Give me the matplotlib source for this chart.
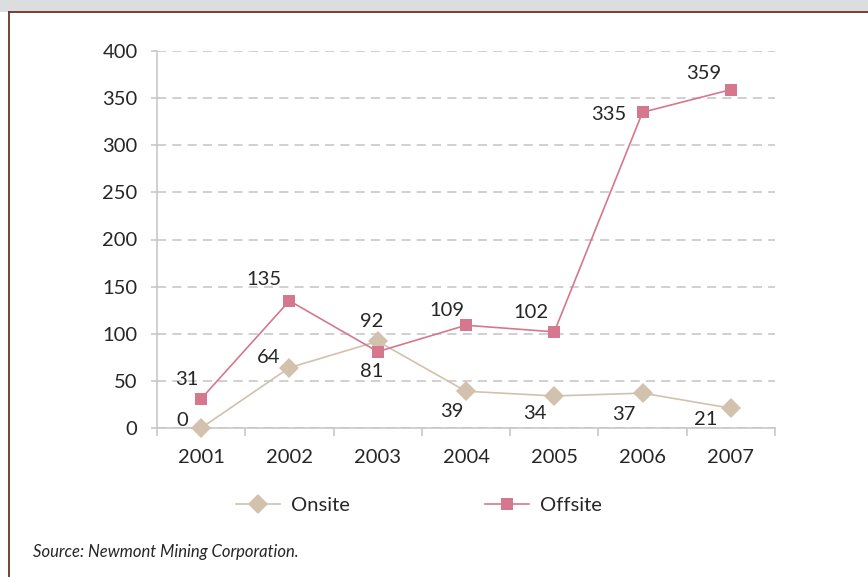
import matplotlib.pyplot as plt
from matplotlib.ticker import FixedLocator
from matplotlib.lines import Line2D
from matplotlib.patches import Rectangle

years = ['2001', '2002', '2003', '2004', '2005', '2006', '2007']
onsite = [0, 64, 92, 39, 34, 37, 21]
offsite = [31, 135, 81, 109, 102, 335, 359]

# label offsets in pixels from each marker
onsite_offsets = [(-19, 7), (-21, 10), (-6, 20), (-14, -20), (-19, -18), (-19, -21), (-25, -11)]
offsite_offsets = [(-14, 19), (-26, 21), (-6, -20), (-19, 15), (-23, 19), (-34, -2), (-27, 16)]

onsite_color = '#d2c1ad'
offsite_color = '#d5788e'
text_color = '#262626'
grid_color = '#c4c4c4'
fsize = 14.5

plt.rcParams['font.family'] = ['Lato', 'DejaVu Sans']

fig = plt.figure(figsize=(8.68, 5.77), dpi=100)

# grey band and brown frame lines
fig.patches.append(Rectangle((0, 1 - 11.5 / 577), 1, 11.5 / 577, transform=fig.transFigure,
                             facecolor='#dcdddf', edgecolor='none', zorder=0))
fig.lines.append(Line2D([9 / 868, 1], [1 - 11.5 / 577] * 2, transform=fig.transFigure,
                        color='#6b3526', lw=1.3))
fig.lines.append(Line2D([9 / 868] * 2, [0, 1 - 11.5 / 577], transform=fig.transFigure,
                        color='#6b3526', lw=1.3))

ax = fig.add_axes([157 / 868, 1 - 428 / 577, 618 / 868, 377 / 577])
x = list(range(len(years)))

ax.plot(x, onsite, color=onsite_color, lw=1.2, marker='D', markersize=10.5,
        markeredgewidth=0, clip_on=False, zorder=3, label='Onsite')
ax.plot(x, offsite, color=offsite_color, lw=1.2, marker='s', markersize=8.5,
        markeredgewidth=0, clip_on=False, zorder=4, label='Offsite')

for i, v in enumerate(onsite):
    ax.annotate(str(v), (i, v), xytext=onsite_offsets[i], textcoords='offset pixels',
                ha='center', va='center', fontsize=fsize, color=text_color)
for i, v in enumerate(offsite):
    ax.annotate(str(v), (i, v), xytext=offsite_offsets[i], textcoords='offset pixels',
                ha='center', va='center', fontsize=fsize, color=text_color)

ax.set_xlim(-0.5, len(years) - 0.5)
ax.set_ylim(0, 400)
ax.set_yticks(range(0, 401, 50))
ax.yaxis.grid(True, color=grid_color, linestyle=(0, (6, 4)), lw=1.1)
ax.set_axisbelow(True)

# category ticks sit between the years, labels at the centres
ax.xaxis.set_major_locator(FixedLocator([i - 0.5 for i in range(len(years) + 1)]))
ax.xaxis.set_minor_locator(FixedLocator(x))
ax.set_xticklabels([])
ax.set_xticklabels(years, minor=True)
ax.tick_params(axis='x', which='major', length=6, color=grid_color, width=1.1)
ax.tick_params(axis='x', which='minor', length=0, pad=15, labelsize=fsize, labelcolor=text_color)
ax.tick_params(axis='y', length=4, color=grid_color, width=1.1, pad=10,
               labelsize=fsize, labelcolor=text_color)

for side in ['top', 'right']:
    ax.spines[side].set_visible(False)
for side in ['left', 'bottom']:
    ax.spines[side].set_color(grid_color)
    ax.spines[side].set_linewidth(1.1)

fig.legend(loc='center', bbox_to_anchor=(419 / 868, 1 - 505 / 577), ncol=2, frameon=False,
           fontsize=fsize, handlelength=2.2, handletextpad=0.55, columnspacing=6.7,
           labelcolor=text_color)

fig.text(33 / 868, 1 - 552 / 577, 'Source: Newmont Mining Corporation.', fontsize=12,
         style='italic', color=text_color, ha='left', va='center')

fig.savefig('out.png', dpi=100, facecolor='white')
